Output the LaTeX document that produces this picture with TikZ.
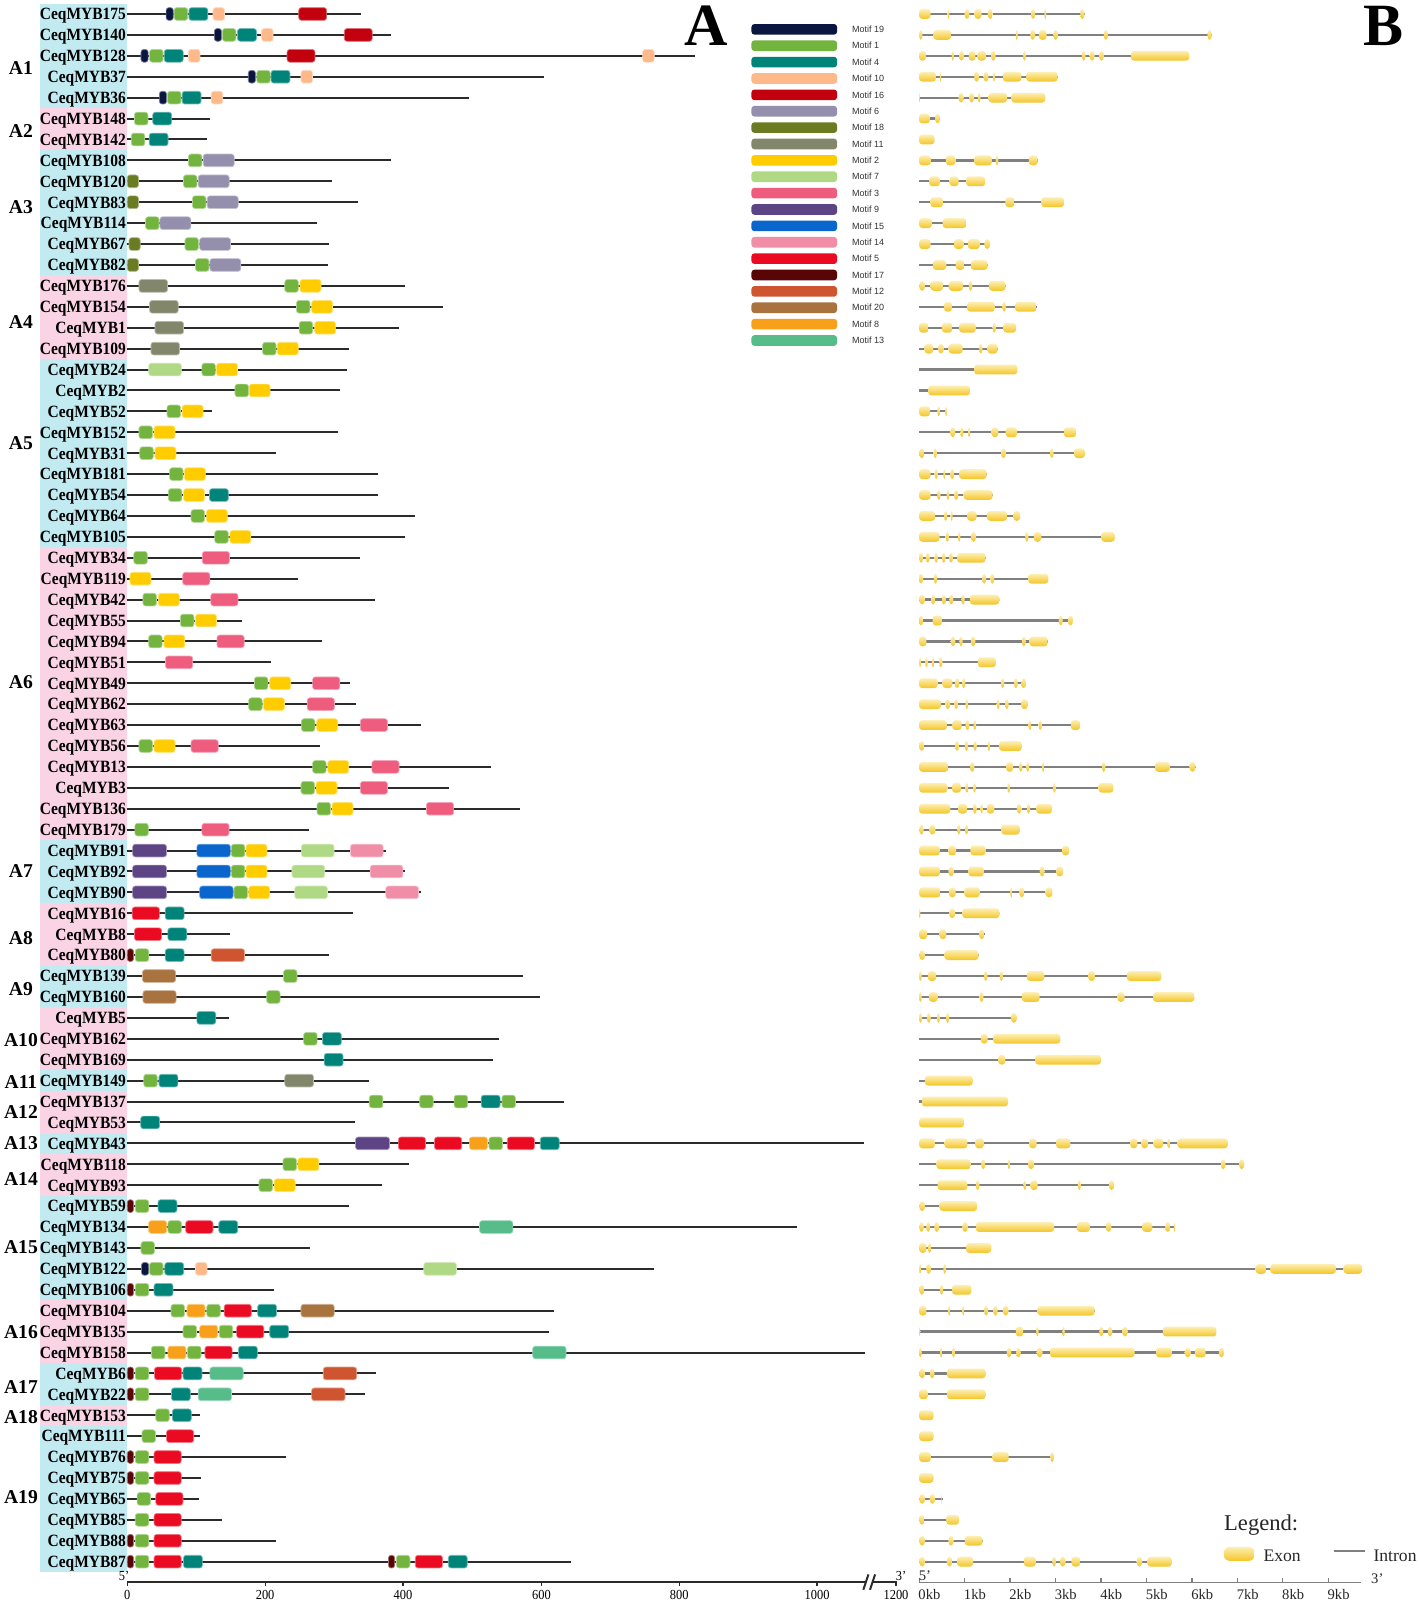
\documentclass[tikz,border=0pt]{standalone}
\usepackage{fontspec}
\setmainfont{Liberation Serif}
\newfontfamily\condf[FakeStretch=0.9]{Liberation Serif}
\newfontfamily\sansf{Liberation Sans}
\newcommand\defmotif[3]{\definecolor{cm#1}{HTML}{#2}\expandafter\def\csname mw#1\endcsname{#3}}
\defmotif{19}{0B1640}{7}
\defmotif{1}{72B43E}{13.2}
\defmotif{4}{00847A}{18.5}
\defmotif{10}{FDB98A}{11.3}
\defmotif{16}{C3000E}{27.3}
\defmotif{6}{958FAE}{30.3}
\defmotif{18}{6A7B22}{10.9}
\defmotif{11}{82876C}{28}
\defmotif{2}{FFCC00}{20.5}
\defmotif{7}{B0D985}{32}
\defmotif{3}{EE5C7E}{26.6}
\defmotif{9}{5D4585}{33.2}
\defmotif{15}{0A66CC}{32.8}
\defmotif{14}{F08EA8}{32}
\defmotif{5}{EA0A22}{26.6}
\defmotif{17}{5A0505}{6.1}
\defmotif{12}{CF5530}{32.7}
\defmotif{20}{A8733E}{32.5}
\defmotif{8}{F8A01A}{17.7}
\defmotif{13}{55BC8A}{32.6}
\definecolor{grpC}{HTML}{C2EAF1}
\definecolor{grpP}{HTML}{FAD3E4}
\definecolor{exL}{HTML}{FDEFB4}
\definecolor{exD}{HTML}{F4C524}
\definecolor{intr}{HTML}{808080}
\definecolor{bb}{HTML}{2B2B2B}
\tikzset{
  backbone/.style={draw=bb, line width=1pt},
  motifbox/.style={rounded corners=1.3pt, line width=0.35pt},
  genename/.style={font=\condf\bfseries\fontsize{8.6}{9}\selectfont, anchor=base east, inner sep=0pt},
  grouplabel/.style={font=\bfseries\fontsize{9.8}{10}\selectfont, inner sep=0pt},
  intronline/.style={draw=intr, line width=1.1pt},
  exonbox/.style={top color=exL, bottom color=exD, rounded corners=1.6pt},
  axnum/.style={font=\condf\fontsize{6.9}{7}\selectfont, inner sep=0pt, anchor=base},
  kbnum/.style={font=\fontsize{7.3}{8}\selectfont, inner sep=0pt, anchor=base west, text=black!85},
  legtext/.style={font=\sansf\fontsize{4.5}{5}\selectfont, anchor=west, inner sep=0pt, text=black!80},
}
\begin{document}
\begin{tikzpicture}[x=0.5108pt,y=-0.5108pt]
\fill[white] (0,0) rectangle (1388,1568);
\useasboundingbox (0,0) rectangle (1388,1568);

% ---------- group boxes and labels ----------
\foreach \ga/\gb/\gc/\glab/\gly in {1/5/grpC/A1/67,6/7/grpP/A2/128,8/13/grpC/A3/203,14/17/grpP/A4/315,18/26/grpC/A5/434,27/40/grpP/A6/668,41/43/grpC/A7/853,44/46/grpP/A8/918.5,47/48/grpC/A9/968.4,49/51/grpP/A10/1018,52/52/grpC/A11/1058.8,53/54/grpP/A12/1088.8,55/55/grpC/A13/1119,56/57/grpP/A14/1153.8,58/62/grpC/A15/1221,63/65/grpP/A16/1303.5,66/67/grpC/A17/1358,68/68/grpP/A18/1386.7,69/75/grpC/A19/1465.7}{
  \fill[\gc] (39.3,{13.7+(\ga-1)*20.47-10.235}) rectangle (124.1,{13.7+(\gb-1)*20.47+10.235});
  \node[grouplabel] (lab\glab) at (20.5,\gly) {\glab};
}

% ---------- part A rows ----------
\foreach \rw/\nm/\len/\mots in {
1/CeqMYB175/353/{162.6/19,170.5/1,184.9/4,208.5/10,292.4/16},
2/CeqMYB140/382.4/{209.8/19,217.7/1,232.5/4,256/10,337/16},
3/CeqMYB128/680.5/{138/19,146.4/1,160.8/4,184.4/10,281/16,629/10},
4/CeqMYB37/532/{243/19,251.3/1,265.3/4,294.6/10},
5/CeqMYB36/459/{156/19,164/1,178.3/4,206.7/10},
6/CeqMYB148/205.4/{131.6/1,149.5/4},
7/CeqMYB142/202.4/{128.5/1,146/4},
8/CeqMYB108/383/{184.4/1,198.9/6},
9/CeqMYB120/325/{124.6/18,179.6/1,194/6},
10/CeqMYB83/350/{124.6/18,188.4/1,202.8/6},
11/CeqMYB114/310/{142.5/1,156.5/6},
12/CeqMYB67/322/{126.3/18,181/1,195.4/6},
13/CeqMYB82/320.8/{124.6/18,191.4/1,205.4/6},
14/CeqMYB176/396/{136/11,278.8/1,293.7/2},
15/CeqMYB154/434/{146.4/11,290.2/1,305/2},
16/CeqMYB1/391/{151.7/11,292.8/1,308/2},
17/CeqMYB109/341.8/{147.7/11,257/1,271.4/2},
18/CeqMYB24/339.6/{145.5/7,197.6/1,212/2},
19/CeqMYB2/333/{230/1,243.9/2},
20/CeqMYB52/207.6/{163.5/1,178.3/2},
21/CeqMYB152/330.4/{136/1,150.8/2},
22/CeqMYB31/270.5/{136.8/1,151.7/2},
23/CeqMYB181/369.8/{166/1,180.5/2},
24/CeqMYB54/370/{164.8/1,179.6/2,205/4},
25/CeqMYB64/406.5/{187/1,202/2},
26/CeqMYB105/396.4/{210.2/1,225/2},
27/CeqMYB34/352.3/{131/1,198/3},
28/CeqMYB119/292/{127.2/2,178.8/3},
29/CeqMYB42/366.7/{139.9/1,155/2,206.3/3},
30/CeqMYB55/236.5/{176.6/1,191.4/2},
31/CeqMYB94/315.6/{145.5/1,160.4/2,212.4/3},
32/CeqMYB51/265.3/{162/3},
33/CeqMYB49/343/{249/1,264/2,306/3},
34/CeqMYB62/348.8/{243.4/1,257.9/2,300.7/3},
35/CeqMYB63/411.7/{295/1,310/2,352.7/3},
36/CeqMYB56/313/{136/1,150.8/2,187/3},
37/CeqMYB13/480.8/{306/1,320.8/2,364/3},
38/CeqMYB3/439/{294.6/1,309.4/2,352.7/3},
39/CeqMYB136/509/{310.3/1,325/2,417.4/3},
40/CeqMYB179/302.4/{132/1,197.6/3},
41/CeqMYB91/377.6/{129.8/9,192.7/15,226.4/1,240.8/2,295/7,343/14},
42/CeqMYB92/396.4/{129.8/9,192.7/15,226.4/1,240.8/2,285.8/7,362.3/14},
43/CeqMYB90/411.7/{129.8/9,195.4/15,229/1,243.4/2,288.5/7,377.6/14},
44/CeqMYB16/345.7/{129.4/5,161.7/4},
45/CeqMYB8/225/{131.6/5,164.3/4},
46/CeqMYB80/322/{124.6/17,132.4/1,161.7/4,206.7/12},
47/CeqMYB139/512.2/{139.4/20,277.5/1},
48/CeqMYB160/528.8/{139.9/20,261/1},
49/CeqMYB5/223.8/{192.7/4},
50/CeqMYB162/488.6/{297.2/1,315.6/4},
51/CeqMYB169/483/{317.3/4},
52/CeqMYB149/361.5/{140.7/1,155.6/4,278.8/11},
53/CeqMYB137/552.4/{361.5/1,410.8/1,444.5/1,471/4,491.3/1},
54/CeqMYB53/347/{137.7/4},
55/CeqMYB43/846/{348/9,389.9/5,425.3/5,459.4/8,478.6/1,496.5/5,528.8/4},
56/CeqMYB118/400/{277/1,291.5/2},
57/CeqMYB93/373.7/{253.5/1,268.4/2},
58/CeqMYB59/341.3/{124.6/17,132.4/1,154.7/4},
59/CeqMYB134/779.8/{145.5/8,164.3/1,181.8/5,214.2/4,469.4/13},
60/CeqMYB143/303.3/{138/1},
61/CeqMYB122/640/{138.5/19,146.4/1,161.3/4,191.4/10,414.8/7},
62/CeqMYB106/268.4/{124.6/17,132.4/1,150.8/4},
63/CeqMYB104/542/{167.4/1,183/8,202.4/1,219.4/5,252.2/4,294.6/20},
64/CeqMYB135/537.5/{179.2/1,195.4/8,214.6/1,231.6/5,264/4},
65/CeqMYB158/847/{148.2/1,164.3/8,183.6/1,200.6/5,233.4/4,521.4/13},
66/CeqMYB6/368.4/{124.6/17,132.4/1,151.2/5,179.2/4,205.4/13,316.4/12},
67/CeqMYB22/357.5/{124.6/17,132.4/1,167.8/4,194/13,305/12},
68/CeqMYB153/195.8/{152.5/1,168.7/4},
69/CeqMYB111/196.2/{139/1,163/5},
70/CeqMYB76/279.7/{124.6/17,132.4/1,150.8/5},
71/CeqMYB75/197.1/{124.6/17,132.4/1,150.8/5},
72/CeqMYB65/195/{134.2/1,152.5/5},
73/CeqMYB85/216.8/{132.4/1,150.8/5},
74/CeqMYB88/269.7/{124.6/17,132.4/1,150.8/5},
75/CeqMYB87/559/{124.6/17,132.4/1,150.8/5,179.6/4,380.2/17,388/1,406.5/5,438.8/4}}{
  \pgfmathsetmacro\ry{13.7+(\rw-1)*20.47}
  \draw[backbone] (124.1,\ry) -- (\len,\ry);
  \node[genename] (n\rw) at (123.6,\ry+5.7) {\nm};
  \foreach \ms/\mo in \mots {
    \edef\mw{\csname mw\mo\endcsname}
    \path[motifbox, fill=cm\mo, draw=cm\mo!55!white] (\ms,\ry-6.2) rectangle ++(\mw,12.4);
  }
}

% ---------- motif legend ----------
\foreach \mo [count=\k] in {19,1,4,10,16,6,18,11,2,7,3,9,15,14,5,17,12,20,8,13}{
  \pgfmathsetmacro\ly{28.7+(\k-1)*16.03}
  \fill[cm\mo, rounded corners=1.5pt] (735.5,\ly-5.2) rectangle (819.3,\ly+5.2);
  \node[legtext] (leg\mo) at (833.7,\ly) {Motif \mo};
}

% ---------- big panel letters ----------
\node[font=\bfseries\fontsize{30}{31}\selectfont, inner sep=0pt] (panelA) at (691.5,25) {A};
\node[font=\bfseries\fontsize{30}{31}\selectfont, inner sep=0pt] (panelB) at (1354.6,25) {B};

% ---------- axis A ----------
\draw[draw=bb, line width=1.2pt] (124.5,1548.2) -- (847.5,1548.2);
\draw[draw=bb, line width=1.2pt] (854.5,1548.2) -- (878,1548.2);
\draw[draw=bb, line width=1pt] (845,1556) -- (850,1541);
\draw[draw=bb, line width=1pt] (851.5,1556) -- (856.5,1541);
\foreach \v/\xx in {0/124.5,200/259.5,400/394.5,600/529.9,800/664.8,1000/799.7,1200/877}{
  \draw[draw=bb, line width=0.6pt] (\xx,1548.2) -- (\xx,1552.5);
  \node[axnum] (ax\v) at (\xx,1565.5) {\v};
}
\node[axnum] (five) at (121.5,1546.5) {5’};
\node[axnum] (three) at (882,1546.5) {3’};

% ---------- part B gene structures ----------
\begin{scope}[shift={(895.65,0)}, xscale=0.3285]
\foreach \rw/\linend/\exl in {
1/505/{12/46,97/102,147/162,177/198,216/232,345/358,385/391,492/505},
2/884/{12/22,55/107,300/306,343/358,369/392,412/426,562/575,871/884},
3/817/{12/32,109/116,131/146,160/180,186/211,226/240,322/330,497/508,520/535,548/563,643/817},
4/425/{12/62,74/78,176/191,204/219,232/238,262/317,332/425},
5/388/{12/14,129/145,161/176,187/195,219/274,287/388},
6/74/{12/44,60/74},
7/12/{12/58},
8/365/{12/47,92/120,176/229,240/248,339/365},
9/209/{42/74,103/130,152/209},
10/444/{46/83,269/296,376/444},
11/153/{12/50,82/153},
12/224/{12/46,116/144,157/193,206/224},
13/216/{53/93,121/147,166/216},
14/270/{12/30,46/83,100/143,160/171,220/270},
15/362/{86/110,155/238,260/271,298/362},
16/301/{12/40,80/111,131/181,231/241,263/301},
17/246/{28/54,68/86,100/142,191/201,216/246},
18/305/{176/305},
19/164/{39/164},
20/95/{12/45,66/74,90/95},
21/480/{104/120,135/144,158/164,228/248,270/304,443/480},
22/506/{12/28,55/65,256/271,402/413,474/506},
23/213/{12/46,58/68,84/90,104/118,131/213},
24/231/{12/46,66/76,94/102,116/129,145/231},
25/313/{12/60,86/96,106/112,155/183,214/274,293/313},
26/595/{12/73,91/101,128/135,166/182,328/338,354/376,555/595},
27/210/{12/24,32/44,58/68,80/91,101/113,125/210},
28/397/{12/24,56/66,200/212,224/236,337/397},
29/251/{12/30,48/60,80/92,102/114,138/148,163/251},
30/471/{12/24,52/80,428/440,455/471},
31/395/{12/34,106/120,132/142,166/180,318/330,341/395},
32/241/{12/18,30/38,50/58,72/82,187/241},
33/331/{12/67,82/111,119/132,140/150,256/266,295/306,316/331},
34/336/{12/77,90/105,117/128,150/158,243/252,268/279,316/336},
35/492/{12/95,111/139,150/162,174/182,338/346,368/378,464/492},
36/318/{12/28,119/131,148/158,174/184,216/224,250/318},
37/836/{12/99,164/177,272/292,310/320,332/340,378/386,557/567,715/759,817/836},
38/591/{12/96,110/137,149/160,173/181,275/283,411/419,547/591},
39/408/{12/105,128/155,173/184,195/202,214/236,303/317,333/343,361/408},
40/312/{12/26,42/61,126/135,149/158,257/312},
41/459/{12/74,99/122,165/210,438/459},
42/441/{12/74,99/116,159/205,371/387,421/441},
43/409/{12/76,101/121,147/193,283/291,310/326,389/409},
44/251/{12/16,101/120,141/251},
45/207/{12/36,73/93,190/207},
46/189/{12/30,88/189},
47/734/{12/20,38/63,205/216,252/262,333/385,516/536,631/734},
48/832/{12/20,41/67,192/204,318/371,603/624,709/832},
49/304/{12/21,35/47,65/74,92/102,285/304},
50/433/{196/216,233/433},
51/554/{248/269,358/554},
52/172/{29/172},
53/277/{20/277},
54/12/{12/146},
55/932/{12/59,88/156,179/205,340/362,420/463,641/662,674/694,711/739,752/760,782/932},
56/981/{64/166,197/209,276/284,336/355,911/925,965/981},
57/594/{67/156,181/192,323/331,344/365,485/494,577/594},
58/185/{12/30,73/185},
59/775/{12/26,33/45,57/72,140/158,181/414,482/521,569/585,677/707,745/761,771/775},
60/227/{12/34,38/48,152/227},
61/1332/{12/18,33/48,84/92,1015/1046,1059/1254,1277/1332},
62/168/{12/28,74/84,110/168},
63/535/{12/34,98/106,140/148,206/218,233/246,261/279,365/535},
64/898/{12/17,300/322,361/368,439/446,549/561,574/588,617/634,738/898},
65/921/{12/20,74/82,110/119,273/287,301/315,362/380,402/654,718/765,803/822,834/866,905/921},
66/210/{12/30,44/58,95/210},
67/210/{12/38,95/210},
68/12/{12/55},
69/12/{12/55},
70/414/{12/47,231/279,403/414},
71/12/{12/55},
72/82/{12/30,43/60,78/82},
73/131/{12/28,93/131},
74/201/{12/30,99/115,148/201},
75/765/{12/30,94/111,125/173,324/360,409/420,431/449,466/492,660/677,692/765}}{
  \pgfmathsetmacro\ry{13.7+(\rw-1)*20.47}
  \draw[intronline] (12,\ry) -- (\linend,\ry);
  \foreach \ea/\eb in \exl {
    \pgfmathtruncatemacro\thin{(\eb-\ea)<20}
    \ifnum\thin=1
      \shade[top color=exL, bottom color=exD] ({(\ea+\eb)/2},\ry) ellipse [x radius={(\eb-\ea)/2}, y radius=4.8];
    \else
      \shade[exonbox] (\ea,\ry-4.8) rectangle (\eb,\ry+4.8);
    \fi
  }
}
\end{scope}

% ---------- axis B ----------
\draw[draw=intr, line width=0.8pt] (899.6,1549) -- (1332,1549);
\foreach \k in {0,...,9}{
  \draw[draw=intr, line width=0.6pt] ({899.6+44.5*\k},1549) -- ++(0,-4.5);
  \node[kbnum] (kb\k) at ({899.6+44.5*\k-1},1566) {\k kb};
}
\node[kbnum] (bfive) at (899,1546.5) {5’};
\node[kbnum] (bthree) at (1341.7,1549.5) {3’};

% ---------- exon/intron legend ----------
\node[anchor=base west, inner sep=0pt, font=\fontsize{11.3}{12}\selectfont, text=black!85] (legtitle) at (1197.8,1497.6) {Legend:};
\shade[top color=exL, bottom color=exD, rounded corners=3pt] (1197.8,1514) rectangle (1228,1527.7);
\node[anchor=base west, inner sep=0pt, font=\fontsize{8.8}{9}\selectfont, text=black!85] (exontxt) at (1236.3,1528) {Exon};
\draw[draw=intr, line width=1.2pt] (1305.6,1517.9) -- (1335.8,1517.9);
\node[anchor=base west, inner sep=0pt, font=\fontsize{8.8}{9}\selectfont, text=black!85] (introntxt) at (1344,1528) {Intron};
\end{tikzpicture}
\end{document}
